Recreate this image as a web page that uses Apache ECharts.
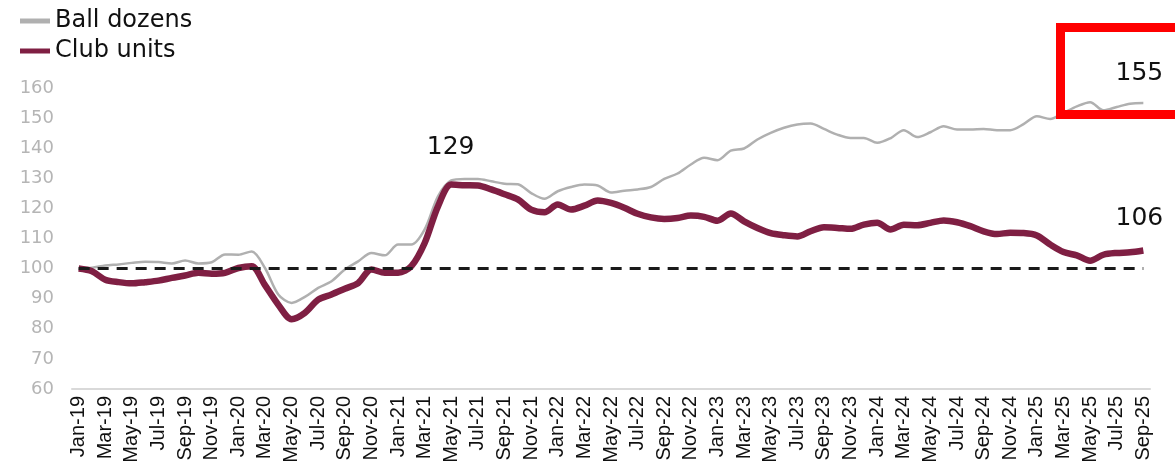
<!DOCTYPE html>
<html>
<head>
<meta charset="utf-8">
<script src="https://cdn.jsdelivr.net/npm/echarts@6/dist/echarts.min.js"></script>
<style>
  html, body { margin: 0; padding: 0; background: #ffffff; }
  #chart { width: 1175px; height: 469px; }
</style>
</head>
<body>
<div id="chart"></div>
<script>
// months, Jan-19 .. Sep-25
var months = [
  'Jan-19','Feb-19','Mar-19','Apr-19','May-19','Jun-19','Jul-19','Aug-19','Sep-19','Oct-19','Nov-19','Dec-19',
  'Jan-20','Feb-20','Mar-20','Apr-20','May-20','Jun-20','Jul-20','Aug-20','Sep-20','Oct-20','Nov-20','Dec-20',
  'Jan-21','Feb-21','Mar-21','Apr-21','May-21','Jun-21','Jul-21','Aug-21','Sep-21','Oct-21','Nov-21','Dec-21',
  'Jan-22','Feb-22','Mar-22','Apr-22','May-22','Jun-22','Jul-22','Aug-22','Sep-22','Oct-22','Nov-22','Dec-22',
  'Jan-23','Feb-23','Mar-23','Apr-23','May-23','Jun-23','Jul-23','Aug-23','Sep-23','Oct-23','Nov-23','Dec-23',
  'Jan-24','Feb-24','Mar-24','Apr-24','May-24','Jun-24','Jul-24','Aug-24','Sep-24','Oct-24','Nov-24','Dec-24',
  'Jan-25','Feb-25','Mar-25','Apr-25','May-25','Jun-25','Jul-25','Aug-25','Sep-25'
];

var ballDozens = [
  100, 100.3, 101, 101.4, 101.9, 102.3, 102.2, 101.7, 102.7, 101.7, 102.1, 104.7,
  104.6, 105.7, 100.2, 91.4, 88.6, 90.6, 93.6, 95.8, 99.7, 102.4, 105.2, 104.4,
  108, 108, 113, 124, 129.3, 129.8, 129.8, 129, 128.2, 128, 125.1, 123.2,
  125.7, 127.1, 127.9, 127.6, 125.3, 125.9, 126.3, 127.1, 129.8, 131.6, 134.6, 136.8,
  136, 139.2, 139.9, 142.9, 145.1, 146.8, 147.9, 148.2, 146.4, 144.5, 143.4, 143.4,
  141.8, 143.3, 146, 143.7, 145.3, 147.3, 146.2, 146.2, 146.4, 146, 146, 148,
  150.6, 149.7, 151.7, 153.9, 155.3, 152.6, 153.7, 154.8, 155
];

var clubUnits = [
  100, 99.1, 96.3, 95.5, 95.1, 95.5, 96, 96.9, 97.7, 98.6, 98.3, 98.6,
  100.2, 100.8, 94.5, 88, 83.2, 85.3, 89.7, 91.4, 93.3, 95.2, 99.7, 98.6,
  98.6, 100.8, 108.5, 120.7, 127.9, 127.7, 127.6, 126.3, 124.7, 123, 119.6, 118.7,
  121.3, 119.6, 120.9, 122.6, 121.8, 120.2, 118.2, 117, 116.5, 116.8, 117.6, 117.2,
  115.9, 118.3, 115.7, 113.5, 111.8, 111.1, 110.7, 112.4, 113.7, 113.5, 113.2, 114.6,
  115.2, 113, 114.6, 114.4, 115.2, 116, 115.4, 114.1, 112.4, 111.5, 111.9, 111.8,
  111, 108, 105.5, 104.4, 102.6, 104.6, 105.2, 105.4, 106
];

var yTicks = [60, 160, 10];   // min, max, step
var baseLevel = 100;
var peakLabel = '129', ballEndLabel = '155', clubEndLabel = '106';

var chart = echarts.init(document.getElementById('chart'), null, { renderer: 'canvas' });

var last = months.length - 1;
var annoStyle = { show: true, color: '#111', fontSize: 25, fontFamily: 'DejaVu Sans' };

var option = {
  animation: false,
  backgroundColor: '#ffffff',
  legend: {
    orient: 'vertical',
    left: 15,
    top: 4,
    itemWidth: 30,
    itemHeight: 5,
    itemGap: 6,
    icon: 'rect',
    textStyle: { color: '#111', fontSize: 24, fontFamily: 'DejaVu Sans', lineHeight: 22 },
    data: ['Ball dozens', 'Club units']
  },
  grid: { left: 72, right: 25, top: 88, bottom: 80 },
  xAxis: {
    type: 'category',
    data: months,
    boundaryGap: true,
    axisLine: { lineStyle: { color: '#d9d9d9', width: 2 } },
    axisTick: { show: false },
    axisLabel: {
      interval: 1,
      rotate: 90,
      margin: 7,
      color: '#111',
      fontSize: 20,
      fontFamily: 'Liberation Sans'
    },
    splitLine: { show: false }
  },
  yAxis: {
    type: 'value',
    min: yTicks[0],
    max: yTicks[1],
    interval: yTicks[2],
    axisLine: { show: false },
    axisTick: { show: false },
    splitLine: { show: false },
    axisLabel: { color: '#b5b5b5', fontSize: 18, fontFamily: 'DejaVu Sans', margin: 18 }
  },
  series: [
    {
      name: 'Ball dozens',
      type: 'line',
      data: ballDozens,
      smooth: 0.3,
      symbol: 'none',
      color: '#b0b0b0',
      lineStyle: { color: '#b0b0b0', width: 2.5 },
      markLine: {
        silent: true,
        symbol: 'none',
        label: { show: false },
        lineStyle: { color: '#1a1a1a', width: 3, type: [11, 8] },
        data: [[{ coord: [months[0], baseLevel] }, { coord: [months[last], baseLevel] }]]
      },
      markPoint: {
        symbol: 'circle',
        symbolSize: 1,
        itemStyle: { color: 'rgba(0,0,0,0)' },
        data: [
          { coord: [months[29], ballDozens[29]], label: Object.assign({ formatter: peakLabel, offset: [-14, -31] }, annoStyle) },
          { coord: [months[last], ballDozens[last]], label: Object.assign({ formatter: ballEndLabel, offset: [-4, -30] }, annoStyle) }
        ]
      }
    },
    {
      name: 'Club units',
      type: 'line',
      data: clubUnits,
      smooth: 0.3,
      symbol: 'none',
      color: '#7f1f43',
      lineStyle: { color: '#7f1f43', width: 6.5 },
      markPoint: {
        symbol: 'circle',
        symbolSize: 1,
        itemStyle: { color: 'rgba(0,0,0,0)' },
        data: [
          { coord: [months[last], clubUnits[last]], label: Object.assign({ formatter: clubEndLabel, offset: [-4, -32] }, annoStyle) }
        ]
      }
    }
  ],
  graphic: [
    {
      type: 'rect',
      shape: { x: 1060.5, y: 27.5, width: 150, height: 87 },
      style: { fill: 'none', stroke: '#ff0000', lineWidth: 9 },
      z: 100
    }
  ]
};

chart.setOption(option);
</script>
</body>
</html>
